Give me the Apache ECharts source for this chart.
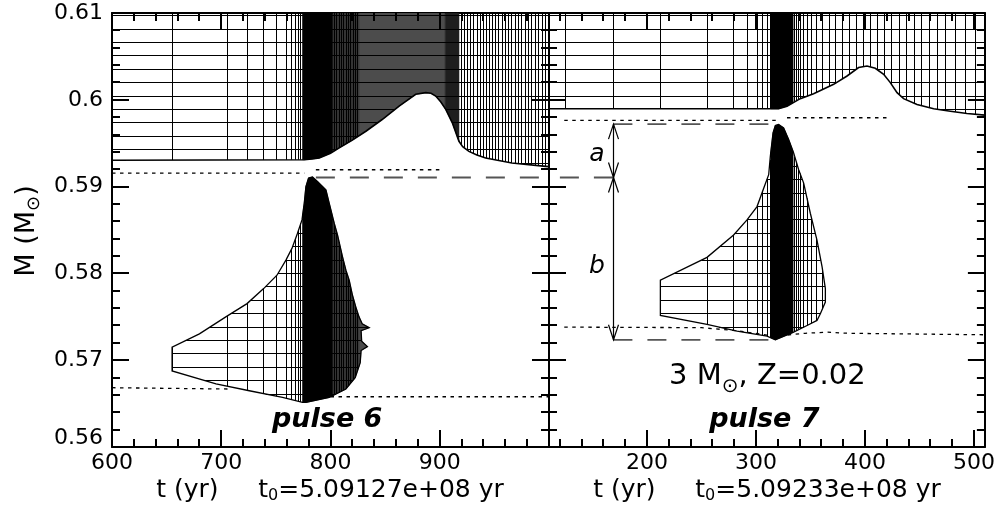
<!DOCTYPE html>
<html><head><meta charset="utf-8">
<script src="https://cdn.jsdelivr.net/npm/echarts@6/dist/echarts.min.js"></script>
<style>html,body{margin:0;padding:0;background:#fff}#c{width:998px;height:510px}</style>
</head><body><div id="c"></div>
<script>
const FONT = 'DejaVu Sans';

// ---------- axis ranges, ticks and tick labels ----------
const xRange6 = [600, 1000];
const xRange7 = [110, 510];
const yRange = [0.56, 0.61];
const yTickLabels = ['0.56', '0.57', '0.58', '0.59', '0.6', '0.61'];
const xTickLabels6 = ['600', '700', '800', '900'];
const xTickLabels7 = ['200', '300', '400', '500'];
const xMajor6 = [600, 700, 800, 900, 1000];
const xMinor6 = [620, 640, 660, 680, 720, 740, 760, 780, 820, 840, 860, 880, 920, 940, 960, 980];
const xMajor7 = [200, 300, 400, 500];
const xMinor7 = [120, 140, 160, 180, 220, 240, 260, 280, 320, 340, 360, 380, 420, 440, 460, 480];
const yMajor = [0.56, 0.57, 0.58, 0.59, 0.6, 0.61];
const yMinor = [0.562, 0.564, 0.566, 0.568, 0.572, 0.574, 0.576, 0.578, 0.582, 0.584, 0.586, 0.588,
  0.592, 0.594, 0.596, 0.598, 0.602, 0.604, 0.606, 0.608];

// ---------- model times (vertical hatch lines) ----------
const modelTimes6 = [655, 705.3, 724.1, 738.8, 751, 759.8, 764.3, 767.8, 770.6, 772.9,
  803.6, 805.8, 807.9, 810.1, 812.2, 814.4, 816.5, 818.7, 820.9, 823.0, 825.1,
  920.2, 923.0, 925.7, 928.5, 931.3, 934.1, 936.9, 939.8, 942.6, 945.5, 948.4, 951.3,
  954.2, 957.1, 960.1, 963.0, 966.0, 969.0, 972.0, 975.1, 978.1, 981.2, 984.3, 987.4,
  990.5, 993.7, 996.8];
const blackSpans6 = [[774.4, 801.8]];
const darkSpans6 = [[905, 917.6]];
const midSpans6 = [[801.8, 826]];
const greySpans6 = [[826, 905]];

const modelTimes7 = [125, 169.1, 212.2, 255.3, 279.6, 291.8, 301.1, 305.8, 310.3, 312.8,
  335.6, 337.2, 338.8, 340.4, 343.4, 346.8, 350.7, 355.3, 360.8, 367.2, 373.2, 379.2,
  385.6, 392.0, 398.4, 404.9, 411.3, 417.7, 424.6, 431.5, 438.3, 445.2, 452.1, 459.0,
  466.3, 473.7, 482.8, 492.0, 501.2];
const blackSpans7 = [[313.5, 334]];
const darkSpans7 = [];
const midSpans7 = [];
const greySpans7 = [];

// ---------- mass grid (horizontal hatch lines) ----------
const envMass = [0.6097, 0.60815, 0.6066, 0.60506, 0.60352, 0.60198, 0.60043, 0.59888,
  0.59733, 0.59578, 0.59424, 0.5927];
const shellMass = [0.59696, 0.59542, 0.59388, 0.59233, 0.59079, 0.58925, 0.5877, 0.58616,
  0.58462, 0.58307, 0.58153, 0.57999, 0.57844, 0.5769, 0.57536, 0.57381, 0.57227, 0.57073,
  0.56918, 0.56764, 0.5661];

// ---------- convective boundaries ----------
const envBoundary6 = [[600, 0.59304], [776, 0.5931], [783, 0.59318], [789.7, 0.5933],
  [800, 0.59385], [808, 0.59446], [820, 0.59535], [832.4, 0.59638], [847.3, 0.59773],
  [862.8, 0.59927], [878, 0.60063], [887.2, 0.60082], [892, 0.60075], [896.3, 0.60043],
  [901, 0.59975], [905.5, 0.59889], [911.5, 0.59735], [917.6, 0.59522], [921, 0.5946],
  [926.7, 0.59406], [934, 0.59365], [942, 0.5933], [966, 0.59272], [997, 0.59233],
  [1000, 0.5923]];
const pulseZone6 = [[655, 0.56876], [655, 0.57149], [680, 0.57304], [704.9, 0.57505],
  [723.6, 0.57652], [738.8, 0.57825], [751, 0.57979], [759.2, 0.58153], [764.7, 0.58288],
  [769.8, 0.58462], [773.9, 0.58616], [776, 0.58809], [777.5, 0.59001], [779.9, 0.59098],
  [783.5, 0.5911], [788.1, 0.59059], [795.8, 0.58963], [798.8, 0.58809], [803.4, 0.58578],
  [806.4, 0.58442], [811, 0.58191], [814.1, 0.58037], [817.1, 0.57921], [820.1, 0.57748],
  [823.2, 0.57612], [826.2, 0.57496], [829, 0.5742], [835.4, 0.57374], [828, 0.5734],
  [828.5, 0.5722], [833.8, 0.57157], [828, 0.57111], [827.2, 0.56972], [822.6, 0.56799],
  [814.1, 0.56668], [798.8, 0.56571], [777.5, 0.56513], [774.4, 0.56513], [756.1, 0.56571],
  [725.7, 0.56648], [695.2, 0.56726]];

const envBoundary7 = [[110, 0.59897], [320.7, 0.59897], [328.4, 0.59927], [340.6, 0.60013],
  [352.8, 0.60071], [371.2, 0.60178], [383.5, 0.60274], [394.1, 0.60372], [401.8, 0.6039],
  [409.4, 0.60363], [417.1, 0.60294], [423.2, 0.60198], [429.4, 0.60082], [435.4, 0.60013],
  [447.7, 0.59947], [463, 0.59897], [478.3, 0.59869], [493.6, 0.59843], [510, 0.59823]];
const pulseZone7 = [[212.2, 0.57516], [212.2, 0.57921], [255, 0.58185], [279.4, 0.58442],
  [291.7, 0.58616], [300.9, 0.5877], [307.6, 0.59001], [311.6, 0.59137], [313.1, 0.59348],
  [315.6, 0.59619], [317.7, 0.59704], [320.7, 0.59715], [325.3, 0.59677], [329.9, 0.59542],
  [334.5, 0.59388], [339.1, 0.59194], [343.7, 0.5904], [349.8, 0.58693], [355.9, 0.58384],
  [360.6, 0.58075], [363.6, 0.57825], [363.6, 0.5767], [359, 0.57536], [355.9, 0.57458],
  [346.8, 0.574], [334.5, 0.57323], [317.7, 0.57235], [310.1, 0.57277], [282.6, 0.57334],
  [255, 0.57412]];

// ---------- dotted / dashed reference lines ----------
const dotUpper6 = [[600, 0.59156], [776, 0.59156]];
const dotUpper6b = [[786.6, 0.59194], [902.4, 0.59194]];
const dotLower6 = [[600, 0.56683], [706, 0.56668]];
const dotLower6b = [[800, 0.56579], [1000, 0.56579]];
const dashPeak6 = [[786.6, 0.59105], [1000, 0.59105]];

const dotUpper7 = [[124, 0.59762], [320.7, 0.59762]];
const dotUpper7b = [[328.4, 0.59793], [423.2, 0.59793]];
const dotLower7 = [[124, 0.57381], [250, 0.57375], [282, 0.5734], [310, 0.5729], [318, 0.57277],
  [345, 0.5731], [365, 0.57323], [385, 0.5731], [510, 0.57293]];
const dashPeak7 = [[120, 0.59105], [169.1, 0.59105]];
const dashTop7 = [[169.1, 0.5972], [313, 0.5972]];
const dashBottom7 = [[169.1, 0.57235], [316, 0.57235]];
const arrows7 = [[169.1, 0.5972, 0.59105], [169.1, 0.59105, 0.57235]];

// ---------- annotations ----------
const labelPos6 = [[797, 0.56313]];
const labelText6 = ['pulse 6'];
const labelPos7 = [[153.9, 0.59368], [153.9, 0.58083], [310.4, 0.5681], [307.6, 0.56313]];
const labelText7 = ['a', 'b', '3 M{s|⊙}, Z=0.02', 'pulse 7'];
const xTitle6 = 't (yr)     t{s|0}=5.09127e+08 yr';
const xTitle7 = 't (yr)     t{s|0}=5.09233e+08 yr';
const yTitle = 'M (M{s|⊙})';

// ---------- geometry helpers ----------
function clipSlab(pts, xa, xb) {
  const clip = (poly, inside, X) => {
    const out = [];
    for (let i = 0; i < poly.length; i++) {
      const cur = poly[i], prev = poly[(i + poly.length - 1) % poly.length];
      const ci = inside(cur), pi = inside(prev);
      const inter = () => [X, prev[1] + (cur[1] - prev[1]) * (X - prev[0]) / (cur[0] - prev[0])];
      if (ci) { if (!pi) out.push(inter()); out.push(cur); }
      else if (pi) out.push(inter());
    }
    return out;
  };
  let r = clip(pts, p => p[0] >= xa, xa);
  if (r.length < 3) return [];
  r = clip(r, p => p[0] <= xb, xb);
  return r;
}
function crossings(pts, v, axis) {
  const o = 1 - axis, res = [];
  for (let i = 0; i < pts.length; i++) {
    const p = pts[i], q = pts[(i + 1) % pts.length];
    if ((p[axis] <= v && v < q[axis]) || (q[axis] <= v && v < p[axis])) {
      res.push(p[o] + (q[o] - p[o]) * (v - p[axis]) / (q[axis] - p[axis]));
    }
  }
  return res.sort((a, b) => a - b);
}

// inward-pointing ticks on all four sides of a panel, drawn as one path per panel
function tickPath(api, xRange, xMajor, xMinor) {
  const pBL = api.coord([xRange[0], yRange[0]]);
  const pTR = api.coord([xRange[1], yRange[1]]);
  const x0 = pBL[0], x1 = pTR[0], yb = pBL[1], yt = pTR[1];
  let d = '';
  const seg = (a, b, c, e) => { d += 'M' + a.toFixed(2) + ' ' + b.toFixed(2) + 'L' + c.toFixed(2) + ' ' + e.toFixed(2); };
  xMajor.concat(xMinor).forEach((v, i) => {
    const len = i < xMajor.length ? 17 : 8;
    const x = Math.round(api.coord([v, yRange[0]])[0]);
    seg(x, yb, x, yb - len);
    seg(x, yt, x, yt + len);
  });
  yMajor.concat(yMinor).forEach((v, i) => {
    const len = i < yMajor.length ? 17 : 8;
    const y = Math.round(api.coord([xRange[0], v])[1]);
    seg(x0, y, x0 + len, y);
    seg(x1, y, x1 - len, y);
  });
  return d;
}
function tickRenderer(xRange, xMajor, xMinor) {
  return function (params, api) {
    const d = tickPath(api, xRange, xMajor, xMinor);
    return { type: 'path', shape: { pathData: d }, style: { fill: 'none', stroke: '#000', lineWidth: 2 } };
  };
}

function hatchRenderer(cfg) {
  return function (params, api) {
    const ch = [];
    const X = t => api.coord([t, 0.58])[0];
    const Y = m => api.coord([cfg.xRange[0], m])[1];
    cfg.zones.forEach(z => {
      const poly = z.poly.map(p => api.coord(p));
      const fills = [[cfg.grey, '#4c4c4c'], [cfg.mid, '#333333'], [cfg.dark, '#1e1e1e'], [cfg.black, '#000']];
      fills.forEach(([spans, col]) => spans.forEach(s => {
        const c = clipSlab(poly, X(s[0]), X(s[1]));
        if (c.length > 2) ch.push({ type: 'polygon', shape: { points: c }, style: { fill: col, stroke: col, lineWidth: 0.6 } });
      }));
      cfg.times.forEach(t => {
        const x = X(t);
        const ys = crossings(poly, x, 0);
        const xr = Math.floor(x) + 0.5;
        for (let i = 0; i + 1 < ys.length; i += 2)
          ch.push({ type: 'line', shape: { x1: xr, y1: ys[i], x2: xr, y2: ys[i + 1] }, style: { stroke: '#000', lineWidth: 1 } });
      });
      z.masses.forEach(m => {
        const y = Y(m);
        const xs = crossings(poly, y, 1);
        const yr = Math.floor(y) + 0.5;
        for (let i = 0; i + 1 < xs.length; i += 2)
          ch.push({ type: 'line', shape: { x1: xs[i], y1: yr, x2: xs[i + 1], y2: yr }, style: { stroke: '#000', lineWidth: 1 } });
      });
      if (z.outline) {
        const ol = z.outline.map(p => api.coord(p));
        ch.push({ type: 'polyline', shape: { points: ol }, style: { fill: 'none', stroke: '#000', lineWidth: 1.6 } });
      } else {
        ch.push({ type: 'polygon', shape: { points: poly }, style: { fill: 'none', stroke: '#000', lineWidth: 1.3 } });
      }
    });
    return { type: 'group', children: ch };
  };
}

function refLine(data, xi, kind) {
  const dotted = kind === 'dot';
  return {
    type: 'line', xAxisIndex: xi, yAxisIndex: xi, data: data, symbol: 'none', silent: true,
    z: 5, animation: false,
    lineStyle: dotted ? { color: '#000', width: 1.3, type: [3.5, 4.5] } : { color: '#555', width: 1.8, type: [19, 15] }
  };
}

function labelRenderer(texts) {
  return function (params, api) {
    const p = api.coord([api.value(0), api.value(1)]);
    const txt = texts[params.dataIndex];
    let st;
    if (txt.indexOf('pulse') === 0) st = { fontSize: 27, fontStyle: 'italic', fontWeight: 'bold' };
    else if (txt.length === 1) st = { fontSize: 25, fontStyle: 'italic', fontWeight: 'normal' };
    else st = { fontSize: 29, fontStyle: 'normal', fontWeight: 'normal' };
    return {
      type: 'text', x: p[0], y: p[1],
      style: Object.assign({
        text: txt, fontFamily: FONT, fill: '#000', align: 'center', verticalAlign: 'middle',
        textAlign: 'center', textVerticalAlign: 'middle', lineHeight: 40,
        rich: { s: { fontSize: 20, fontFamily: FONT, fill: '#000', lineHeight: 18, verticalAlign: 'bottom' } }
      }, st)
    };
  };
}

function arrowRenderer(params, api) {
  const t = api.value(0);
  const a = api.coord([t, api.value(1)]), b = api.coord([t, api.value(2)]);
  const xr = Math.floor(a[0]) + 0.5;
  const ch = [{ type: 'line', shape: { x1: xr, y1: a[1], x2: xr, y2: b[1] }, style: { stroke: '#000', lineWidth: 1.2 } }];
  const head = (tip, dir) => ch.push({ type: 'polyline', shape: { points: [[xr - 5, tip - dir * 15], [xr, tip], [xr + 5, tip - dir * 15]] }, style: { fill: 'none', stroke: '#000', lineWidth: 1.2 } });
  head(a[1], a[1] < b[1] ? -1 : 1);
  head(b[1], b[1] > a[1] ? 1 : -1);
  return { type: 'group', children: ch };
}

// ---------- axes ----------
function axisBase() {
  return {
    type: 'value',
    axisLine: { show: true, onZero: false, lineStyle: { color: '#000', width: 2 } },
    axisTick: { show: false },
    minorTick: { show: false },
    splitLine: { show: false }, minorSplitLine: { show: false },
    axisLabel: { show: false }
  };
}
const labelStyle = { fontSize: 22, fontFamily: FONT, color: '#000', lineHeight: 22 };
function xAx(grid, range, pos, labels, interval) {
  const a = Object.assign(axisBase(), { gridIndex: grid, min: range[0], max: range[1], position: pos });
  if (interval) a.interval = interval;
  if (labels) a.axisLabel = Object.assign({ show: true, margin: 5, showMinLabel: true, showMaxLabel: true,
    formatter: v => { const s = String(Math.round(v)); return labels.includes(s) && Math.abs(v - Math.round(v)) < 1e-6 ? s : ''; } }, labelStyle);
  return a;
}
function yAx(grid, pos, withLabels) {
  const a = Object.assign(axisBase(), { gridIndex: grid, min: yRange[0], max: yRange[1], interval: 0.01, position: pos });
  if (withLabels) a.axisLabel = Object.assign({ show: true, margin: 9,
    formatter: v => { const s = String(Math.round(v * 100) / 100); if (!yTickLabels.includes(s)) return ''; return s === yTickLabels[0] ? '{lo|' + s + '}' : s; },
    rich: { lo: { fontSize: 22, fontFamily: FONT, color: '#000', lineHeight: 22, padding: [0, 0, 18, 0] } } }, labelStyle);
  return a;
}

const chart = echarts.init(document.getElementById('c'), null, { renderer: 'canvas' });
const option = {
  animation: false,
  backgroundColor: '#fff',
  grid: [
    { left: 112, top: 13, width: 437, height: 434 },
    { left: 549, top: 13, width: 436, height: 434 }
  ],
  xAxis: [
    xAx(0, xRange6, 'bottom', xTickLabels6, 100),
    xAx(0, xRange6, 'top', null, 100),
    xAx(1, xRange7, 'bottom', xTickLabels7, null),
    xAx(1, xRange7, 'top', null, null)
  ],
  yAxis: [yAx(0, 'left', true), yAx(0, 'right', false), yAx(1, 'left', false), yAx(1, 'right', false)],
  series: [
    { type: 'custom', xAxisIndex: 0, yAxisIndex: 0, clip: true, silent: true, z: 2, data: [[800, 0.58]],
      renderItem: hatchRenderer({ xRange: xRange6, times: modelTimes6, black: blackSpans6, dark: darkSpans6, mid: midSpans6, grey: greySpans6,
        zones: [{ poly: [[xRange6[0], yRange[1]], [xRange6[1], yRange[1]]].concat(envBoundary6.slice().reverse()), masses: envMass, outline: envBoundary6 },
                { poly: pulseZone6, masses: shellMass }] }) },
    { type: 'custom', xAxisIndex: 2, yAxisIndex: 2, clip: true, silent: true, z: 2, data: [[300, 0.58]],
      renderItem: hatchRenderer({ xRange: xRange7, times: modelTimes7, black: blackSpans7, dark: darkSpans7, mid: midSpans7, grey: greySpans7,
        zones: [{ poly: [[xRange7[0], yRange[1]], [xRange7[1], yRange[1]]].concat(envBoundary7.slice().reverse()), masses: envMass, outline: envBoundary7 },
                { poly: pulseZone7, masses: shellMass }] }) },
    refLine(dotUpper6, 0, 'dot'), refLine(dotUpper6b, 0, 'dot'), refLine(dotLower6, 0, 'dot'), refLine(dotLower6b, 0, 'dot'),
    refLine(dashPeak6, 0, 'dash'),
    refLine(dotUpper7, 2, 'dot'), refLine(dotUpper7b, 2, 'dot'), refLine(dotLower7, 2, 'dot'),
    refLine(dashPeak7, 2, 'dash'), refLine(dashTop7, 2, 'dash'), refLine(dashBottom7, 2, 'dash'),
    { type: 'custom', xAxisIndex: 2, yAxisIndex: 2, clip: false, silent: true, z: 6, data: arrows7, renderItem: arrowRenderer },
    { type: 'custom', xAxisIndex: 0, yAxisIndex: 0, clip: false, silent: true, z: 7, data: labelPos6, renderItem: labelRenderer(labelText6) },
    { type: 'custom', xAxisIndex: 2, yAxisIndex: 2, clip: false, silent: true, z: 7, data: labelPos7, renderItem: labelRenderer(labelText7) },
    { type: 'custom', xAxisIndex: 0, yAxisIndex: 0, clip: false, silent: true, z: 9, data: [[700, 0.57]], renderItem: tickRenderer(xRange6, xMajor6, xMinor6) },
    { type: 'custom', xAxisIndex: 2, yAxisIndex: 2, clip: false, silent: true, z: 9, data: [[250, 0.57]], renderItem: tickRenderer(xRange7, xMajor7, xMinor7) }
  ],
  graphic: [
    { type: 'text', x: 330, y: 490, silent: true,
      style: { text: xTitle6, fontSize: 25, fontFamily: FONT, fill: '#000', align: 'center', verticalAlign: 'middle', textAlign: 'center', textVerticalAlign: 'middle', lineHeight: 28,
        rich: { s: { fontSize: 16, fontFamily: FONT, fill: '#000', lineHeight: 14, verticalAlign: 'bottom' } } } },
    { type: 'text', x: 767, y: 490, silent: true,
      style: { text: xTitle7, fontSize: 25, fontFamily: FONT, fill: '#000', align: 'center', verticalAlign: 'middle', textAlign: 'center', textVerticalAlign: 'middle', lineHeight: 28,
        rich: { s: { fontSize: 16, fontFamily: FONT, fill: '#000', lineHeight: 14, verticalAlign: 'bottom' } } } },
    { type: 'text', x: 27, y: 231, rotation: Math.PI / 2, silent: true,
      style: { text: yTitle, fontSize: 27, fontFamily: FONT, fill: '#000', align: 'center', verticalAlign: 'middle', textAlign: 'center', textVerticalAlign: 'middle', lineHeight: 32,
        rich: { s: { fontSize: 18, fontFamily: FONT, fill: '#000', lineHeight: 16, verticalAlign: 'bottom' } } } }
  ]
};
chart.setOption(option);
</script>
</body></html>
